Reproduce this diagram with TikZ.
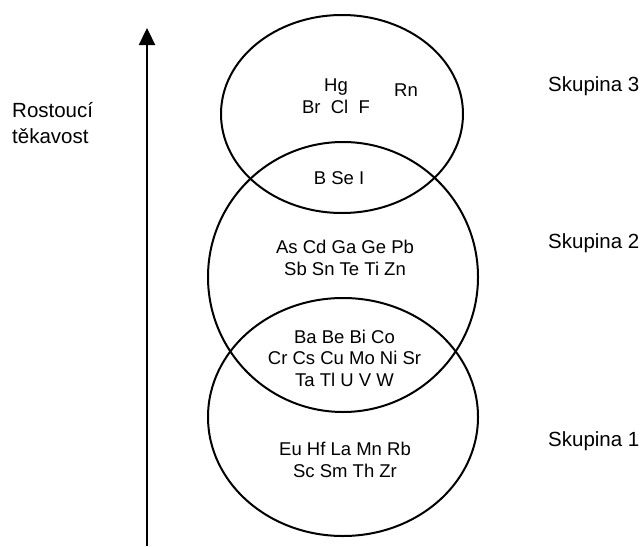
\documentclass[tikz,border=0pt]{standalone}
\usepackage{fontspec}
\setmainfont{Liberation Sans}
\usepackage{tikz}
\usetikzlibrary{arrows.meta,positioning}
\tikzset{
  grpline/.style={line width=2pt},
  axisarrow/.style={-{Triangle[length=17pt,width=16pt]}, line width=2.3pt},
  elems/.style={align=center, inner sep=0pt, font=\fontsize{18.5}{21.5}\selectfont},
  sidelbl/.style={anchor=west, inner sep=0pt, font=\fontsize{20.5}{26}\selectfont},
}

\begin{document}
\begin{tikzpicture}[x=1pt,y=-1pt]
    \useasboundingbox (0,0) rectangle (642,546);
    % volatility axis
    \coordinate (arrbot) at (147,546);
    \coordinate (arrtop) at (147,28);
    \draw[axisarrow] (arrbot) -- (arrtop);
    \node[sidelbl, align=left] (volat) at (12,123) {Rostoucí\\těkavost};
    % the three groups
    \draw[grpline] (342,114) ellipse [x radius=121, y radius=99];
    \draw[grpline] (343,277) ellipse [x radius=135, y radius=135];
    \draw[grpline] (343,417) ellipse [x radius=135, y radius=119];
    \node[elems] (hgbr) at (336,96) {Hg\\Br\ \ Cl\ \ F};
    \node[elems] (rn) at (406,90.5) {Rn};
    \node[elems] (bsei) at (339,178.5) {B Se I};
    \node[elems] (ascd) at (345,258) {As Cd Ga Ge Pb\\Sb Sn Te Ti Zn};
    \node[elems] (babe) at (344.5,358) {Ba Be Bi Co\\Cr Cs Cu Mo Ni Sr\\Ta Tl U V W};
    \node[elems] (euhf) at (345,460) {Eu Hf La Mn Rb\\Sc Sm Th Zr};
    \node[sidelbl] (sk3) at (548,86) {Skupina 3};
    \node[sidelbl] (sk2) at (548,243) {Skupina 2};
    \node[sidelbl] (sk1) at (548,441) {Skupina 1};
\end{tikzpicture}
\end{document}
